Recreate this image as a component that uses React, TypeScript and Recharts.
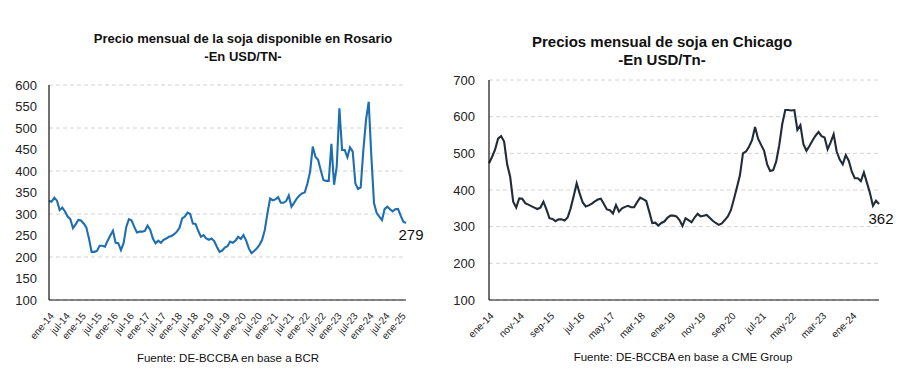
import React from "react";
import { LineChart, Line, XAxis, YAxis, CartesianGrid } from "recharts";

const MESES = ["ene", "feb", "mar", "abr", "may", "jun", "jul", "ago", "sep", "oct", "nov", "dic"];

// USD/TN, mensual desde ene-14
const rosarioPrecios = [
  330, 329, 338, 331, 309, 315, 306, 294, 288, 267, 276, 286,
  285, 278, 269, 243, 212, 212, 214, 226, 226, 224, 238, 250,
  261, 233, 232, 216, 232, 270, 288, 285, 270, 257, 259, 259,
  261, 273, 263, 243, 232, 238, 233, 240, 243, 247, 249, 253,
  259, 268, 290, 294, 303, 300, 278, 277, 261, 247, 251, 243,
  240, 243, 237, 224, 212, 215, 222, 225, 236, 233, 238, 247,
  242, 251, 238, 220, 209, 214, 220, 228, 240, 263, 302, 336,
  332, 334, 339, 326, 326, 330, 343, 317, 326, 336, 343, 348,
  350, 371, 398, 457, 433, 426, 402, 379, 377, 377, 463, 368,
  410, 546, 449, 449, 432, 455, 445, 371, 358, 362, 449, 519,
  561, 433, 325, 302, 294, 286, 312, 317, 311, 306, 311, 312,
  296, 282, 279,
];

const chicagoPrecios = [
  473, 490, 510, 540, 547, 532, 470, 436, 368, 352, 377, 376,
  364, 360, 356, 352, 348, 352, 368, 347, 323, 321, 315, 320,
  320, 317, 325, 350, 383, 418, 390, 366, 355, 358, 363, 369,
  374, 376, 362, 347, 345, 336, 359, 341, 350, 354, 357, 353,
  353, 367, 379, 375, 370, 341, 310, 311, 303, 310, 314, 324,
  330, 330, 328, 318, 302, 323, 318, 312, 325, 335, 328, 330,
  332, 324, 316, 310, 305, 309, 318, 328, 345, 375, 407, 440,
  500, 505, 518, 536, 572, 540, 523, 507, 470, 452, 454, 478,
  522, 580, 618, 618, 617, 618, 564, 577, 525, 507, 520, 535,
  548, 558, 547, 543, 511, 530, 552, 505, 483, 470, 495, 480,
  450, 432, 432, 424, 448, 420, 392, 357, 371, 362,
];

const rosarioTicks = [100, 150, 200, 250, 300, 350, 400, 450, 500, 550, 600];
const chicagoTicks = [100, 200, 300, 400, 500, 600, 700];

const mesLabel = (i: number) => `${MESES[i % 12]}-${14 + Math.floor(i / 12)}`;

const rosarioData = rosarioPrecios.map((v, i) => ({ mes: mesLabel(i), precio: v }));
const chicagoData = chicagoPrecios.map((v, i) => ({ mes: mesLabel(i), precio: v }));

const FONT = "'Liberation Sans', Arial, sans-serif";
const NARROW = "'Liberation Sans Narrow', 'Liberation Sans', Arial, sans-serif";

const makeTick = (family: string, size: number, angle: number) => (props: any) => {
  const { x, y, payload } = props;
  return (
    <g transform={`translate(${x + 3},${y + 6}) rotate(${angle})`}>
      <text x={0} y={0} dy="0.35em" textAnchor="end" fontSize={size} fontFamily={family} fill="#222">
        {payload.value}
      </text>
    </g>
  );
};

const lastLabel = (n: number, dx: number, dy: number) => (p: any) => {
  if (p.index !== n - 1) return <g key={`l-${p.index}`} />;
  return (
    <text key="last" x={p.x + dx} y={p.y + dy} textAnchor="middle" fontSize={15} fontFamily={FONT} fill="#111">
      {p.value}
    </text>
  );
};

const titleStyle: React.CSSProperties = {
  position: "absolute",
  textAlign: "center",
  fontWeight: "bold",
  color: "#111",
  fontFamily: FONT,
};

const footStyle: React.CSSProperties = {
  position: "absolute",
  textAlign: "center",
  fontSize: 11.5,
  color: "#111",
  fontFamily: NARROW,
};

export default function App() {
  return (
    <div style={{ position: "absolute", left: 0, top: 0, width: 913, height: 384, background: "#fff", fontFamily: FONT }}>
      <div style={{ ...titleStyle, left: 40, width: 406, top: 30, fontSize: 13, lineHeight: "18px" }}>
        Precio mensual de la soja disponible en Rosario
        <br />
        -En USD/TN-
      </div>
      <div style={{ ...titleStyle, left: 462, width: 400, top: 33, fontSize: 15, lineHeight: "18px" }}>
        Precios mensual de soja en Chicago
        <br />
        -En USD/Tn-
      </div>

      <div style={{ position: "absolute", left: 0, top: 0 }}>
        <LineChart width={430} height={384} data={rosarioData} margin={{ top: 85, right: 24, bottom: 34, left: 0 }}>
          <CartesianGrid vertical={false} stroke="#d4d4d4" strokeDasharray="4 3" />
          <XAxis
            dataKey="mes"
            interval={5}
            height={50}
            tickLine={false}
            axisLine={{ stroke: "#111", strokeWidth: 1.2 }}
            tick={makeTick(NARROW, 10, -50)}
          />
          <YAxis
            domain={[100, 600]}
            ticks={rosarioTicks}
            width={49}
            tickLine={false}
            tickSize={6}
            tickMargin={6}
            axisLine={{ stroke: "#111", strokeWidth: 1.2 }}
            tick={{ fontSize: 13, fill: "#222", fontFamily: FONT }}
          />
          <Line
            type="linear"
            dataKey="precio"
            stroke="#1f6eb0"
            strokeWidth={2.1}
            dot={false}
            isAnimationActive={false}
            label={lastLabel(rosarioData.length, 5, 17)}
          />
        </LineChart>
      </div>

      <div style={{ position: "absolute", left: 440, top: 0 }}>
        <LineChart width={473} height={384} data={chicagoData} margin={{ top: 80, right: 34, bottom: 34, left: 0 }}>
          <CartesianGrid vertical={false} stroke="#d4d4d4" strokeDasharray="4 3" />
          <XAxis
            dataKey="mes"
            interval={9}
            height={50}
            tickLine={false}
            axisLine={{ stroke: "#111", strokeWidth: 1.2 }}
            tick={makeTick(FONT, 10, -45)}
          />
          <YAxis
            domain={[100, 700]}
            ticks={chicagoTicks}
            width={49}
            tickLine={false}
            tickSize={6}
            tickMargin={8}
            axisLine={{ stroke: "#111", strokeWidth: 1.2 }}
            tick={{ fontSize: 13, fill: "#222", fontFamily: FONT }}
          />
          <Line
            type="linear"
            dataKey="precio"
            stroke="#222b38"
            strokeWidth={2.1}
            dot={false}
            isAnimationActive={false}
            label={lastLabel(chicagoData.length, 2, 20)}
          />
        </LineChart>
      </div>

      <div style={{ ...footStyle, left: 28, width: 400, top: 352 }}>Fuente: DE-BCCBA en base a BCR</div>
      <div style={{ ...footStyle, left: 483, width: 400, top: 351 }}>Fuente: DE-BCCBA en base a CME Group</div>
    </div>
  );
}
